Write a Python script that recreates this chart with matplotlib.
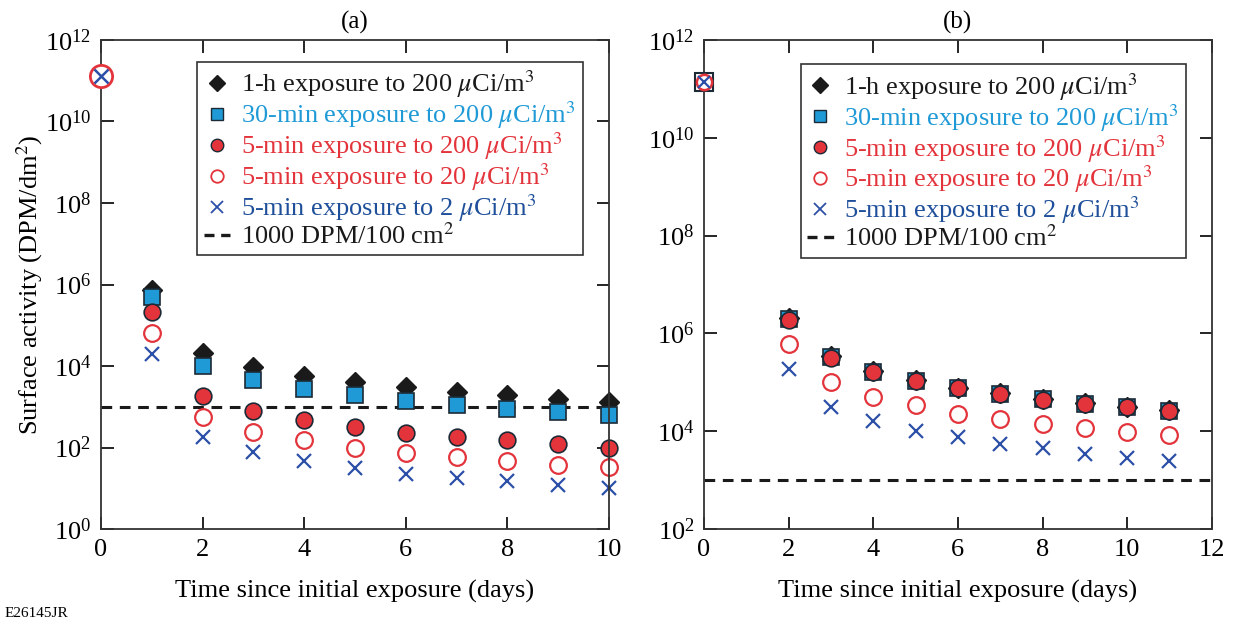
import matplotlib
matplotlib.use('Agg')
import matplotlib.pyplot as plt
import numpy as np
from matplotlib.lines import Line2D

plt.rcParams['font.family'] = ['Liberation Serif', 'DejaVu Serif']
plt.rcParams['mathtext.fontset'] = 'stix'
plt.rcParams['font.size'] = 15

# panel (a): days 1..10 after exposure
days_a = np.arange(1, 11)
h1_a = [7.5e5, 2.1e4, 9.5e3, 5.8e3, 4.0e3, 3.0e3, 2.3e3, 1.9e3, 1.6e3, 1.3e3]
m30_a = [4.9e5, 1.0e4, 4.6e3, 2.8e3, 1.9e3, 1.4e3, 1.1e3, 910, 760, 630]
m5_200_a = [2.1e5, 1.8e3, 800, 470, 316, 234, 182, 150, 126, 100]
m5_20_a = [6.3e4, 550, 240, 150, 100, 75, 59, 46, 38, 33]
m5_2_a = [2.0e4, 180, 80, 46, 31, 22, 18, 15, 12, 10]
start_a = 1.3e11

# panel (b): days 2..11 after exposure
days_b = np.arange(2, 12)
h1_b = [2.1e6, 3.4e5, 1.7e5, 1.1e5, 7.8e4, 6.0e4, 4.6e4, 3.8e4, 3.2e4, 2.7e4]
m30_b = [2.0e6, 3.3e5, 1.65e5, 1.07e5, 7.5e4, 5.8e4, 4.5e4, 3.7e4, 3.1e4, 2.65e4]
m5_200_b = [1.9e6, 3.2e5, 1.6e5, 1.07e5, 7.5e4, 5.7e4, 4.4e4, 3.6e4, 3.1e4, 2.6e4]
m5_20_b = [6.2e5, 1.0e5, 5.1e4, 3.4e4, 2.3e4, 1.8e4, 1.4e4, 1.15e4, 9.7e3, 8.5e3]
m5_2_b = [1.9e5, 3.2e4, 1.6e4, 1.0e4, 7.6e3, 5.5e3, 4.5e3, 3.5e3, 2.9e3, 2.5e3]
start_b = 1.4e11

limit = 1000

black = '#1a1a1a'
cyan = '#1f9ad6'
red = '#e3343c'
blue = '#2c4fa8'
navy_text = '#1f4f9a'
edge = '#1c2a36'

labels = ['1-h exposure to 200 $\\mu$Ci/m$^3$',
          '30-min exposure to 200 $\\mu$Ci/m$^3$',
          '5-min exposure to 200 $\\mu$Ci/m$^3$',
          '5-min exposure to 20 $\\mu$Ci/m$^3$',
          '5-min exposure to 2 $\\mu$Ci/m$^3$',
          '1000 DPM/100 cm$^2$']
label_colors = [black, cyan, red, red, navy_text, black]

handles = [
    Line2D([], [], ls='none', marker='D', ms=8, mfc=black, mec=black),
    Line2D([], [], ls='none', marker='s', ms=8, mfc=cyan, mec=edge),
    Line2D([], [], ls='none', marker='o', ms=9, mfc=red, mec=edge),
    Line2D([], [], ls='none', marker='o', ms=9, mfc='none', mec=red, mew=1.3),
    Line2D([], [], ls='none', marker='x', ms=8, mec=blue, mew=1.3),
    Line2D([], [], ls=(0, (3, 2)), color=black, lw=2.4),
]


def draw(ax, days, h1, m30, m5_200, m5_20, m5_2, anchor):
    kw = dict(ls='none', clip_on=False)
    ax.plot(days, h1, marker='D', ms=10, mfc=black, mec=black, **kw)
    ax.plot(days, m30, marker='s', ms=12, mfc=cyan, mec=edge, mew=1.2, **kw)
    ax.plot(days, m5_200, marker='o', ms=12, mfc=red, mec=edge, mew=1.2, **kw)
    ax.plot(days, m5_20, marker='o', ms=12, mfc='none', mec=red, mew=1.6, **kw)
    ax.plot(days, m5_2, marker='x', ms=10, mec=blue, mew=1.6, **kw)
    ax.axhline(limit, color=black, ls=(0, (3.5, 2.5)), lw=2.2, zorder=1)
    ax.set_yscale('log')
    ax.tick_params(which='major', direction='in', length=9, width=1.2,
                   top=True, right=True, labelsize=19, pad=7)
    ax.tick_params(which='minor', left=False, right=False)
    for s in ax.spines.values():
        s.set_color('#333333')
        s.set_linewidth(1.3)
    ax.set_xlabel('Time since initial exposure (days)', fontsize=19, labelpad=14)
    leg = ax.legend(handles, labels, loc='upper left', bbox_to_anchor=anchor,
                    labelcolor=label_colors, fontsize=19, frameon=True, fancybox=False,
                    handlelength=1.0, handletextpad=0.4, borderpad=0.25,
                    labelspacing=-0.03, borderaxespad=0, framealpha=1)
    leg.get_frame().set_edgecolor('#333333')
    leg.get_frame().set_linewidth(1.2)
    return leg


fig = plt.figure(figsize=(12.38, 6.24), dpi=100)
ax1 = fig.add_axes([0.0815, 0.152, 0.4105, 0.784])
ax2 = fig.add_axes([0.5687, 0.152, 0.4101, 0.784])

draw(ax1, days_a, h1_a, m30_a, m5_200_a, m5_20_a, m5_2_a, (0.19, 0.955))
ax1.plot([0], [start_a], ls='none', marker='o', ms=16, mfc='white', mec=red, mew=2, clip_on=False, zorder=5)
ax1.plot([0], [start_a], ls='none', marker='x', ms=10, mec=blue, mew=1.8, clip_on=False, zorder=6)
ax1.set_xlim(0, 10)
ax1.set_ylim(1, 1e12)
ax1.set_xticks([0, 2, 4, 6, 8, 10])
ax1.set_yticks([1e0, 1e2, 1e4, 1e6, 1e8, 1e10, 1e12])
ax1.set_ylabel('Surface activity (DPM/dm$^2$)', fontsize=19, labelpad=0)
ax1.set_title('(a)', fontsize=18, pad=8)

draw(ax2, days_b, h1_b, m30_b, m5_200_b, m5_20_b, m5_2_b, (0.19, 0.95))
ax2.plot([0], [start_b], ls='none', marker='s', ms=13, mfc='white', mec=edge, mew=1.5, clip_on=False, zorder=5)
ax2.plot([0], [start_b], ls='none', marker='o', ms=11, mfc='white', mec=red, mew=1.8, clip_on=False, zorder=6)
ax2.plot([0], [start_b], ls='none', marker='x', ms=9, mec=blue, mew=1.6, clip_on=False, zorder=7)
ax2.set_xlim(0, 12)
ax2.set_ylim(1e2, 1e12)
ax2.set_xticks([0, 2, 4, 6, 8, 10, 12])
ax2.set_yticks([1e2, 1e4, 1e6, 1e8, 1e10, 1e12])
ax2.set_title('(b)', fontsize=18, pad=8)

fig.text(0.004, 0.012, 'E26145JR', fontsize=11)

fig.savefig('out.png', dpi=100)
